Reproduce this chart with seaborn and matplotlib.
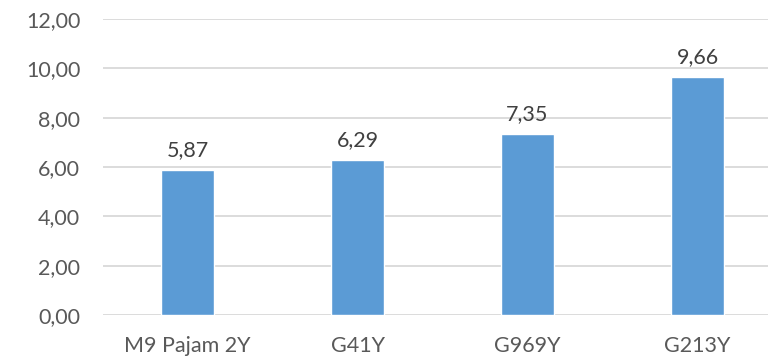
import matplotlib
matplotlib.use("Agg")
import matplotlib.pyplot as plt
import seaborn as sns
import pandas as pd

categories = ["M9 Pajam 2Y", "G41Y", "G969Y", "G213Y"]
values = [5.87, 6.29, 7.35, 9.66]
y_ticks = [0, 2, 4, 6, 8, 10, 12]

sns.set_style("white")
plt.rcParams['font.family'] = ['Lato', 'DejaVu Sans']

df = pd.DataFrame({"rootstock": categories, "value": values})

fig = plt.figure(figsize=(7.68, 3.56), dpi=100)
ax = fig.add_axes([0.1335, 0.1152, 0.8854, 0.8315])

sns.barplot(data=df, x="rootstock", y="value", color="#5B9BD5", saturation=1,
            width=0.31, ax=ax, zorder=3)

ax.set_xlim(-0.5, len(categories) - 0.5)
ax.set_ylim(0, 12)
ax.set_yticks(y_ticks)
ax.set_yticklabels([f"{t:.2f}".replace(".", ",") for t in y_ticks])
ax.yaxis.grid(True, color="#D9D9D9", linewidth=1.3, zorder=0)
ax.set_axisbelow(True)
for s in ax.spines.values():
    s.set_visible(False)
ax.tick_params(axis="both", length=0, labelsize=15.5, colors="#595959")
ax.tick_params(axis="x", pad=15)
ax.tick_params(axis="y", pad=16)
ax.set_xlabel("")
ax.set_ylabel("")

for i, v in enumerate(values):
    ax.annotate(f"{v:.2f}".replace(".", ","), (i, v), xytext=(0, 7),
                textcoords="offset points", ha="center", va="bottom",
                fontsize=15.5, color="#404040")

fig.savefig("out.png", dpi=100)
